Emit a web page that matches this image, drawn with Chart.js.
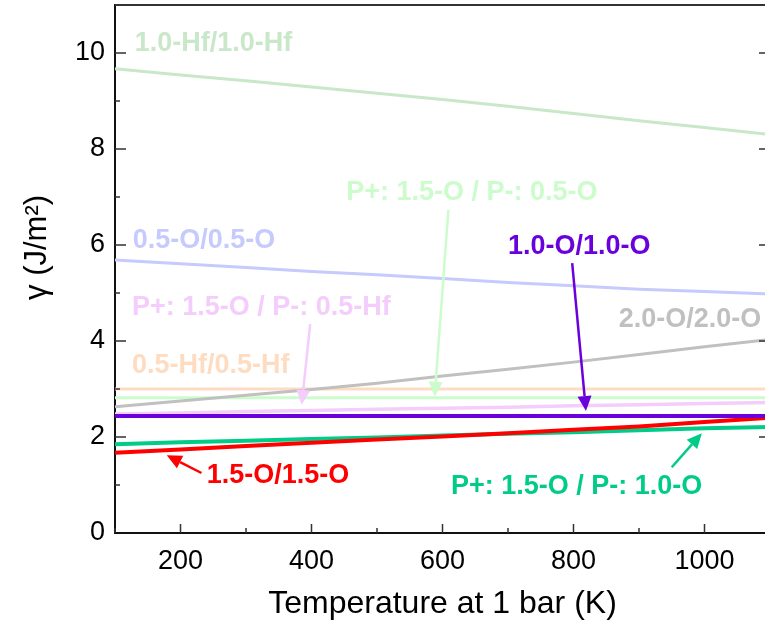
<!DOCTYPE html>
<html>
<head>
<meta charset="utf-8">
<script src="https://cdn.jsdelivr.net/npm/chart.js@4/dist/chart.umd.min.js"></script>
<style>
    html, body { margin: 0; padding: 0; overflow: hidden; background: #fff; }
    #wrap { width: 780px; height: 623px; }
</style>
</head>
<body>
<div id="wrap"><canvas id="gamma-chart" width="780" height="623"></canvas></div>
<script>
const temps = [100, 200, 300, 400, 500, 600, 700, 800, 900, 1000, 1100];
const xTicks = [200, 400, 600, 800, 1000];
const yTicks = [0, 2, 4, 6, 8, 10];

const hf10 = [9.67, 9.54, 9.42, 9.29, 9.16, 9.03, 8.89, 8.74, 8.59, 8.45, 8.30];
const o05 = [5.69, 5.61, 5.53, 5.45, 5.38, 5.30, 5.22, 5.15, 5.08, 5.03, 4.98];
const o20 = [2.63, 2.75, 2.87, 2.99, 3.12, 3.27, 3.41, 3.56, 3.72, 3.88, 4.03];
const hf05 = [3.00, 3.00, 3.00, 3.00, 3.00, 3.00, 3.00, 3.00, 3.00, 3.00, 3.00];
const p15o05o = [2.82, 2.82, 2.82, 2.82, 2.82, 2.82, 2.82, 2.82, 2.82, 2.82, 2.82];
const p15o05hf = [2.48, 2.50, 2.53, 2.55, 2.58, 2.60, 2.62, 2.65, 2.67, 2.70, 2.72];
const o10 = [2.44, 2.44, 2.44, 2.44, 2.44, 2.44, 2.44, 2.44, 2.44, 2.44, 2.44];
const p15o10o = [1.85, 1.89, 1.92, 1.96, 1.99, 2.03, 2.07, 2.10, 2.14, 2.18, 2.21];
const o15 = [1.67, 1.74, 1.81, 1.88, 1.95, 2.01, 2.08, 2.15, 2.22, 2.31, 2.40];

// text labels with optional arrow, anchored in data units (T, gamma)
const notes = [
    { text: '1.0-Hf/1.0-Hf', color: '#c9e7c9', at: [130, 10.19] },
    { text: '0.5-O/0.5-O', color: '#c6cafc', at: [127, 6.10] },
    { text: 'P+: 1.5-O / P-: 0.5-O', color: '#ccfccc', at: [453, 7.10], arrow: [[609, 6.73], [588, 2.84]] },
    { text: '1.0-O/1.0-O', color: '#6a00dc', at: [700, 5.96], arrow: [[798, 5.62], [819, 2.54]] },
    { text: 'P+: 1.5-O / P-: 0.5-Hf', color: '#f4cdfc', at: [126, 4.70], arrow: [[398, 4.35], [385, 2.67]] },
    { text: '0.5-Hf/0.5-Hf', color: '#fddcc2', at: [126, 3.48] },
    { text: '2.0-O/2.0-O', color: '#c0c0c0', at: [869, 4.44] },
    { text: '1.5-O/1.5-O', color: '#ff0000', at: [240, 1.19], arrow: [[232, 1.25], [179, 1.62]] },
    { text: 'P+: 1.5-O / P-: 1.0-O', color: '#00cc88', at: [613, 0.96], arrow: [[950, 1.37], [996, 2.08]] }
];

const FONT = '"Liberation Sans", Arial, sans-serif';

function series(values, color, width) {
    return {
        data: temps.map((t, i) => ({ x: t, y: values[i] })),
        borderColor: color,
        borderWidth: width,
        pointRadius: 0,
        tension: 0,
        fill: false
    };
}

// inward tick marks on left, right and bottom
const innerTicks = {
    id: 'innerTicks',
    afterDraw(chart) {
        const { ctx, chartArea: a, scales: { x, y } } = chart;
        ctx.save();
        ctx.strokeStyle = '#333';
        ctx.lineWidth = 1.5;
        ctx.beginPath();
        for (let v = 100; v <= 1100; v += 100) {
            const px = x.getPixelForValue(v);
            const len = v % 200 === 0 ? 9 : 5;
            ctx.moveTo(px, a.bottom);
            ctx.lineTo(px, a.bottom - len);
        }
        for (let v = 1; v <= 10; v += 1) {
            const py = y.getPixelForValue(v);
            const len = v % 2 === 0 ? 11 : 5;
            ctx.moveTo(a.left, py);
            ctx.lineTo(a.left + len, py);
            ctx.moveTo(a.right, py);
            ctx.lineTo(a.right - len, py);
        }
        ctx.stroke();
        // top frame
        ctx.lineWidth = 2;
        ctx.beginPath();
        ctx.moveTo(a.left, a.top);
        ctx.lineTo(a.right, a.top);
        ctx.stroke();
        ctx.restore();
    }
};

const annotations = {
    id: 'annotations',
    afterDatasetsDraw(chart) {
        const { ctx, scales: { x, y } } = chart;
        ctx.save();
        ctx.font = 'bold 27px ' + FONT;
        ctx.textBaseline = 'middle';
        ctx.textAlign = 'left';
        notes.forEach(n => {
            ctx.fillStyle = n.color;
            ctx.fillText(n.text, x.getPixelForValue(n.at[0]), y.getPixelForValue(n.at[1]));
            if (!n.arrow) return;
            const x0 = x.getPixelForValue(n.arrow[0][0]), y0 = y.getPixelForValue(n.arrow[0][1]);
            const x1 = x.getPixelForValue(n.arrow[1][0]), y1 = y.getPixelForValue(n.arrow[1][1]);
            const ang = Math.atan2(y1 - y0, x1 - x0);
            const head = 15, half = 7;
            const bx = x1 - head * Math.cos(ang), by = y1 - head * Math.sin(ang);
            ctx.strokeStyle = n.color;
            ctx.lineWidth = 2.5;
            ctx.beginPath();
            ctx.moveTo(x0, y0);
            ctx.lineTo(bx, by);
            ctx.stroke();
            ctx.beginPath();
            ctx.moveTo(x1, y1);
            ctx.lineTo(bx + half * Math.sin(ang), by - half * Math.cos(ang));
            ctx.lineTo(bx - half * Math.sin(ang), by + half * Math.cos(ang));
            ctx.closePath();
            ctx.fill();
        });
        ctx.restore();
    }
};

new Chart(document.getElementById('gamma-chart'), {
    type: 'line',
    data: {
        datasets: [
            series(o10, '#6a00dc', 4),
            series(o15, '#ff0000', 4),
            series(p15o10o, '#00cc88', 4),
            series(p15o05hf, '#f4cdfc', 3.5),
            series(o20, '#c0c0c0', 3),
            series(p15o05o, '#ccfccc', 3),
            series(hf05, '#fddcc2', 3),
            series(o05, '#c6cafc', 3),
            series(hf10, '#c9e7c9', 3)
        ]
    },
    options: {
        responsive: false,
        animation: false,
        layout: { padding: { top: 5, right: 10, left: 0, bottom: 0 } },
        plugins: {
            legend: { display: false },
            tooltip: { enabled: false }
        },
        scales: {
            x: {
                type: 'linear',
                min: 100,
                max: 1100,
                afterBuildTicks: s => { s.ticks = xTicks.map(v => ({ value: v })); },
                afterFit: s => { s.height = 90; s.paddingLeft = 0; s.paddingRight = 0; },
                grid: { display: false, drawTicks: false },
                border: { display: true, color: '#111', width: 2 },
                ticks: { padding: 12, color: '#000', font: { family: FONT, size: 27 }, callback: v => String(v) },
                title: { display: true, text: 'Temperature at 1 bar (K)', color: '#000', padding: { top: 0, bottom: 0 }, font: { family: FONT, size: 32 } }
            },
            y: {
                min: 0,
                max: 11,
                afterBuildTicks: s => { s.ticks = yTicks.map(v => ({ value: v })); },
                afterFit: s => { s.width = 115; s.paddingTop = 0; s.paddingBottom = 0; },
                grid: { display: false, drawTicks: false },
                border: { display: true, color: '#111', width: 2 },
                ticks: { padding: 10, color: '#000', font: { family: FONT, size: 27 } },
                title: { display: true, text: '     γ (J/m²)', color: '#000', padding: { top: 19, bottom: 0 }, font: { family: FONT, size: 31 } }
            }
        }
    },
    plugins: [innerTicks, annotations]
});
</script>
</body>
</html>
